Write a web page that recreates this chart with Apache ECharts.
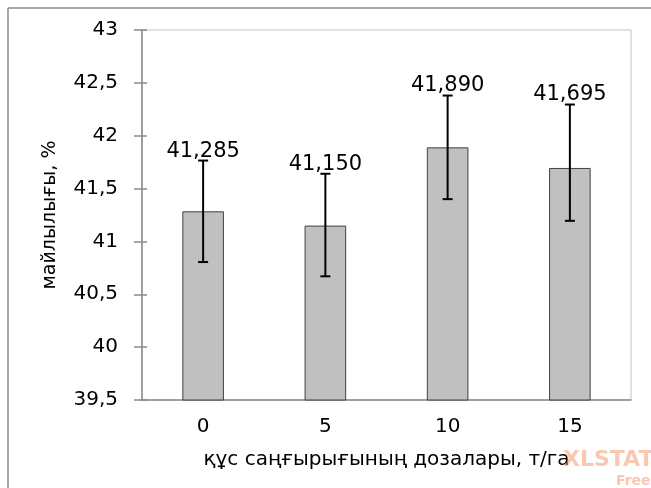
<!DOCTYPE html>
<html>
<head>
<meta charset="utf-8">
<script src="https://cdn.jsdelivr.net/npm/echarts@6/dist/echarts.min.js"></script>
<style>
  html, body { margin: 0; padding: 0; background: #fff; }
  #chart { width: 651px; height: 488px; }
</style>
</head>
<body>
<div id="chart"></div>
<script>
const categories = ['0', '5', '10', '15'];
const values = [41.285, 41.150, 41.890, 41.695];
const errUp = [0.48, 0.49, 0.49, 0.6];
const errDown = [0.48, 0.48, 0.49, 0.5];
const yMin = 39.5, yMax = 43, yStep = 0.5;

const font = 'DejaVu Sans';
const axisGray = '#8a8a8a';
const comma = v => String(v).replace('.', ',');

let myChart = echarts.init(document.getElementById('chart'));

let option = {
  animation: false,
  textStyle: { fontFamily: font },
  grid: {
    left: 142, right: 20, top: 30, bottom: 88,
    show: true, borderColor: '#c4c4c4', borderWidth: 1
  },
  xAxis: [
    {
      type: 'category',
      data: categories,
      axisLine: { lineStyle: { color: axisGray, width: 1.5 } },
      axisTick: { alignWithLabel: false, length: 7, lineStyle: { color: axisGray, width: 1.5 } },
      axisLabel: { color: '#000', fontSize: 20, margin: 17, fontFamily: font },
      name: 'құс саңғырығының дозалары, т/га',
      nameLocation: 'middle',
      nameGap: 50,
      nameTextStyle: { color: '#000', fontSize: 20, fontFamily: font }
    },
    {
      // inner half of the crossing ticks
      type: 'category',
      data: categories,
      position: 'bottom',
      axisLine: { show: false },
      axisTick: { inside: true, length: 4, lineStyle: { color: axisGray, width: 1.5 } },
      axisLabel: { show: false }
    }
  ],
  yAxis: [
    {
      type: 'value',
      min: yMin, max: yMax, interval: yStep,
      splitLine: { show: false },
      axisLine: { show: true, lineStyle: { color: axisGray, width: 1.5 } },
      axisTick: { show: true, length: 8, lineStyle: { color: axisGray, width: 1.5 } },
      axisLabel: { color: '#000', fontSize: 20, margin: 24, fontFamily: font, formatter: v => comma(v) },
      name: 'майлылығы, %',
      nameLocation: 'middle',
      nameGap: 82,
      nameTextStyle: { color: '#000', fontSize: 19, fontFamily: font }
    },
    {
      type: 'value',
      position: 'left',
      min: yMin, max: yMax, interval: yStep,
      splitLine: { show: false },
      axisLine: { show: false },
      axisTick: { show: true, inside: true, length: 5, lineStyle: { color: axisGray, width: 1.5 } },
      axisLabel: { show: false }
    }
  ],
  series: [
    {
      type: 'bar',
      data: values,
      barWidth: '34%',
      itemStyle: { color: '#c0c0c0', borderColor: '#404040', borderWidth: 1 },
      z: 2
    },
    {
      type: 'custom',
      data: categories.map((c, i) => [i, values[i], errUp[i], errDown[i]]),
      z: 5,
      renderItem: function (params, api) {
        const i = api.value(0);
        const v = api.value(1);
        const hi = api.coord([i, v + api.value(2)]);
        const lo = api.coord([i, v - api.value(3)]);
        const cap = 5;
        const ls = { stroke: '#000', lineWidth: 2 };
        return {
          type: 'group',
          children: [
            { type: 'line', shape: { x1: hi[0], y1: hi[1], x2: lo[0], y2: lo[1] }, style: ls },
            { type: 'line', shape: { x1: hi[0] - cap, y1: hi[1], x2: hi[0] + cap, y2: hi[1] }, style: ls },
            { type: 'line', shape: { x1: lo[0] - cap, y1: lo[1], x2: lo[0] + cap, y2: lo[1] }, style: ls },
            {
              type: 'text',
              style: {
                text: v.toFixed(3).replace('.', ','),
                x: hi[0], y: hi[1] + 1,
                align: 'center', verticalAlign: 'bottom',
                fill: '#000', font: '21px "DejaVu Sans"'
              }
            }
          ]
        };
      }
    }
  ],
  graphic: [
    { type: 'line', shape: { x1: 8, y1: 8, x2: 651, y2: 8 }, style: { stroke: '#8a8a8a', lineWidth: 1.5 } },
    { type: 'line', shape: { x1: 8, y1: 8, x2: 8, y2: 488 }, style: { stroke: '#8a8a8a', lineWidth: 1.5 } },
    {
      type: 'text', left: 563, top: 449, z: 10,
      style: { text: 'XLSTAT', fill: 'rgba(244,130,80,0.45)', font: 'bold 22px "DejaVu Sans"' }
    },
    {
      type: 'text', left: 616, top: 474, z: 10,
      style: { text: 'Free', fill: 'rgba(244,130,80,0.45)', font: 'bold 14px "DejaVu Sans"' }
    }
  ]
};

option && myChart.setOption(option);
</script>
</body>
</html>
